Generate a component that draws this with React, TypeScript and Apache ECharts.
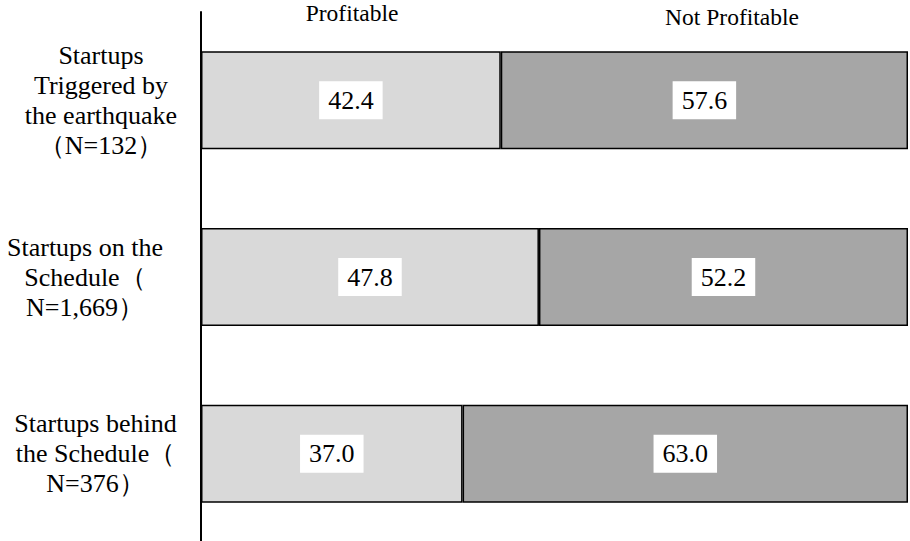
import React, { useEffect, useRef } from "react";
import * as echarts from "echarts";

// Share of startups that are profitable vs. not, by launch timing (%)
const categories = [
  "Startups\nTriggered by\nthe earthquake\n（N=132）",
  "Startups on the\nSchedule（\nN=1,669）",
  "Startups behind\nthe Schedule（\nN=376）",
];
const seriesNames = ["Profitable", "Not Profitable"];
const profitable = [42.4, 47.8, 37.0];
const notProfitable = [57.6, 52.2, 63.0];

const FONT = "Liberation Serif";

// right-side padding that nudges each category label block leftwards
const labelPadRight = [0, 32, 11];

export default function App() {
  const ref = useRef<HTMLDivElement>(null);

  useEffect(() => {
    if (!ref.current) return;
    const chart = echarts.init(ref.current, undefined, { renderer: "svg" });

    const label = {
      show: true,
      position: "inside",
      color: "#000",
      fontSize: 26,
      fontFamily: FONT,
      backgroundColor: "#fff",
      padding: [6, 9, 6, 9],
      formatter: (p: any) => Number(p.value).toFixed(1),
    };

    const axisLabelStyle = {
      color: "#000",
      fontSize: 26,
      lineHeight: 30,
      fontFamily: FONT,
      align: "center",
    };

    chart.setOption({
      animation: false,
      backgroundColor: "#fff",
      textStyle: { fontFamily: FONT },
      grid: {
        left: 201,
        right: 2,
        top: 12,
        height: 530,
        containLabel: false,
        outerBoundsMode: "none",
      },
      xAxis: {
        type: "value",
        min: 0,
        max: 100,
        show: false,
      },
      yAxis: {
        type: "category",
        inverse: true,
        data: categories.map((c, i) => ({
          value: c,
          textStyle: { ...axisLabelStyle, padding: [0, labelPadRight[i], 0, 0] },
        })),
        axisLine: { show: true, lineStyle: { color: "#000", width: 2 } },
        axisTick: { show: false },
        axisLabel: { ...axisLabelStyle, margin: 100 },
        splitLine: { show: false },
      },
      graphic: [
        {
          type: "text",
          x: 352,
          y: 13,
          style: {
            text: seriesNames[0],
            fill: "#000",
            fontSize: 23.5,
            fontFamily: FONT,
            align: "center",
            verticalAlign: "middle",
          },
        },
        {
          type: "text",
          x: 732,
          y: 16.5,
          style: {
            text: seriesNames[1],
            fill: "#000",
            fontSize: 23.5,
            fontFamily: FONT,
            align: "center",
            verticalAlign: "middle",
          },
        },
      ],
      series: [
        {
          name: seriesNames[0],
          type: "bar",
          stack: "total",
          barWidth: 98,
          data: profitable,
          itemStyle: { color: "#d9d9d9", borderColor: "#000", borderWidth: 1.5 },
          label,
        },
        {
          name: seriesNames[1],
          type: "bar",
          stack: "total",
          barWidth: 98,
          data: notProfitable,
          itemStyle: { color: "#a6a6a6", borderColor: "#000", borderWidth: 1.5 },
          label,
        },
      ],
    });

    return () => chart.dispose();
  }, []);

  return (
    <div
      ref={ref}
      style={{ position: "absolute", left: 0, top: 0, width: 910, height: 541 }}
    />
  );
}
